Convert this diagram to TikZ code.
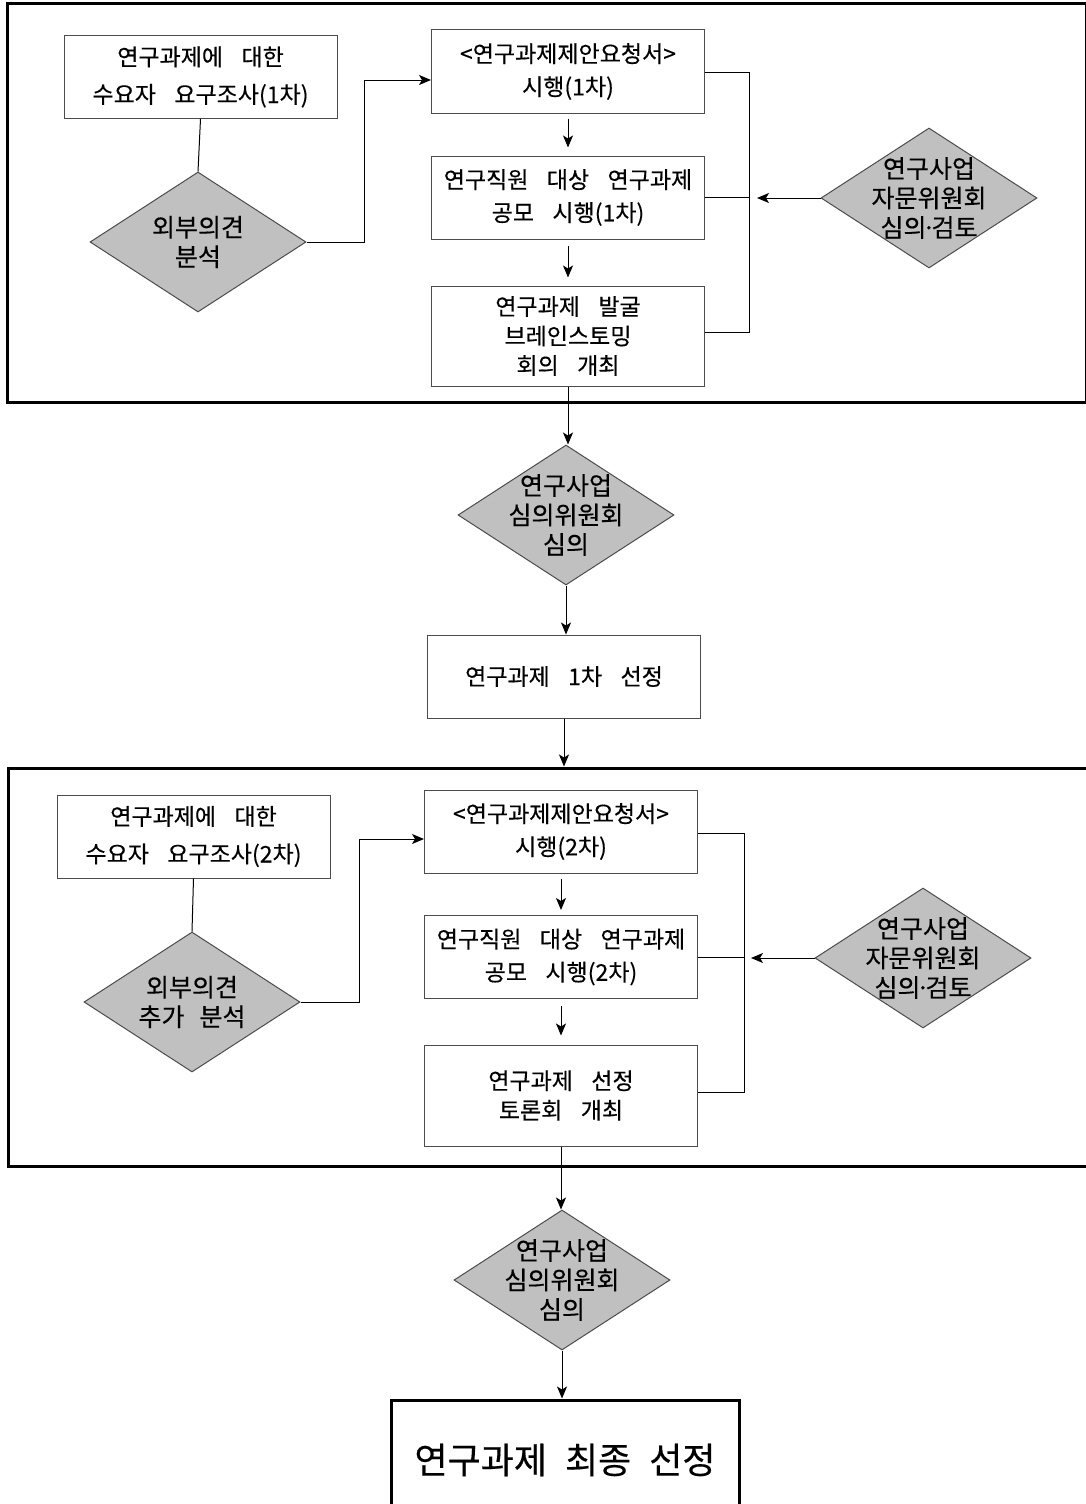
\documentclass[tikz,border=0pt]{standalone}
\usepackage{fontspec}
\setmainfont{Noto Sans CJK KR}[FakeBold=0.4]
\usetikzlibrary{arrows.meta,shapes.geometric}
\definecolor{decgray}{RGB}{192,192,192}
\newcommand{\flowfont}[3]{\fontsize{#1}{#2}\selectfont\spaceskip=#3em\relax}
\newcommand{\middot}{\kern-.18em·\kern-.18em}
\tikzset{
  procbox/.style={draw=black!70, line width=1pt, rectangle, minimum width=273pt, minimum height=83pt, inner sep=0pt, align=center, font=\flowfont{23}{33}{.8}},
  decbox/.style={draw=black!70, line width=1pt, diamond, aspect=1.5, fill=decgray, minimum width=216pt, minimum height=140pt, inner sep=-18pt, align=center, font=\flowfont{25}{29.5}{.6}},
  bigframe/.style={draw, rectangle, line width=3pt, inner sep=0pt},
  flowline/.style={line width=1pt, >={Stealth[length=12pt,width=10pt,inset=3pt]}}
}
\begin{document}
\begin{tikzpicture}[x=1pt,y=-1pt]
    \useasboundingbox (0,0) rectangle (1086,1504);
    % first round
    \node[bigframe, minimum width=1079pt, minimum height=398pt] (f1) at (546.5,203) {};
    \node[procbox, font=\flowfont{23}{37.5}{.8}] (q1) at (200.5,77) {연구과제에 대한\\수요자 요구조사(1차)};
    \node[decbox] (o1) at (198,242) {외부의견\\분석};
    \node[procbox] (r1) at (568,71.5) {<연구과제제안요청서>\\시행(1차)};
    \node[procbox] (p1) at (568,197.5) {연구직원 대상 연구과제\\공모 시행(1차)};
    \node[procbox, minimum height=100pt, font=\flowfont{23}{29.5}{.8}] (b1) at (568,336) {연구과제 발굴\\브레인스토밍\\회의 개최};
    \node[decbox] (a1) at (929,198) {연구사업\\자문위원회\\심의\middot 검토};

    \draw[flowline] (q1.south) -- (o1.north);
    \draw[flowline,->] (o1.east) -- ++(58,0) |- ([yshift=-8.5pt]r1.west);
    \draw[flowline,->,shorten <=5pt,shorten >=8pt] (r1.south) -- (p1.north);
    \draw[flowline,->,shorten <=6pt,shorten >=8pt] (p1.south) -- (b1.north);
    \draw[flowline] ([yshift=-1.5pt]r1.east) -- ++(44,0) coordinate (k1) |- ([yshift=4pt]b1.east);
    \draw[flowline] (p1.east) -- (p1.east -| k1);
    \draw[flowline,->] (a1.west) -- ([xshift=8pt]a1.west -| k1);

    % first selection
    \node[decbox] (c1) at (566,515) {연구사업\\심의위원회\\심의};
    \node[procbox] (s1) at (564,676.5) {연구과제 1차 선정};
    \draw[flowline,->] (b1.south) -- (b1.south |- c1.north);
    \draw[flowline,->] (c1.south) -- (c1.south |- s1.north);

    % second round
    \node[bigframe, minimum width=1084pt, minimum height=398pt] (f2) at (550,967) {};
    \draw[flowline,->] (s1.south) -- (s1.south |- f2.north);
    \node[procbox, font=\flowfont{23}{37.5}{.8}] (q2) at (193.5,836.5) {연구과제에 대한\\수요자 요구조사(2차)};
    \node[decbox] (o2) at (192,1002) {외부의견\\추가 분석};
    \node[procbox] (r2) at (561,831.5) {<연구과제제안요청서>\\시행(2차)};
    \node[procbox] (p2) at (561,957) {연구직원 대상 연구과제\\공모 시행(2차)};
    \node[procbox, minimum height=101pt, font=\flowfont{23}{29.5}{.8}] (b2) at (561,1095.5) {연구과제 선정\\토론회 개최};
    \node[decbox] (a2) at (923,958) {연구사업\\자문위원회\\심의\middot 검토};

    \draw[flowline] (q2.south) -- (o2.north);
    \draw[flowline,->] (o2.east) -- ++(59,0) |- ([yshift=-7.5pt]r2.west);
    \draw[flowline,->,shorten <=5pt,shorten >=5pt] (r2.south) -- (p2.north);
    \draw[flowline,->,shorten <=7pt,shorten >=9pt] (p2.south) -- (b2.north);
    \draw[flowline] ([yshift=-1.5pt]r2.east) -- ++(46,0) coordinate (k2) |- ([yshift=3.5pt]b2.east);
    \draw[flowline] (p2.east) -- (p2.east -| k2);
    \draw[flowline,->] (a2.west) -- ([xshift=7pt]a2.west -| k2);

    % final selection
    \node[decbox] (c2) at (562,1280) {연구사업\\심의위원회\\심의};
    \node[bigframe, minimum width=348pt, minimum height=120pt, font=\flowfont{36}{40}{.5}] (fin) at (565,1460) {연구과제 최종 선정};
    \draw[flowline,->] (b2.south) -- (b2.south |- c2.north);
    \draw[flowline,->] (c2.south) -- (c2.south |- fin.north);
\end{tikzpicture}
\end{document}
